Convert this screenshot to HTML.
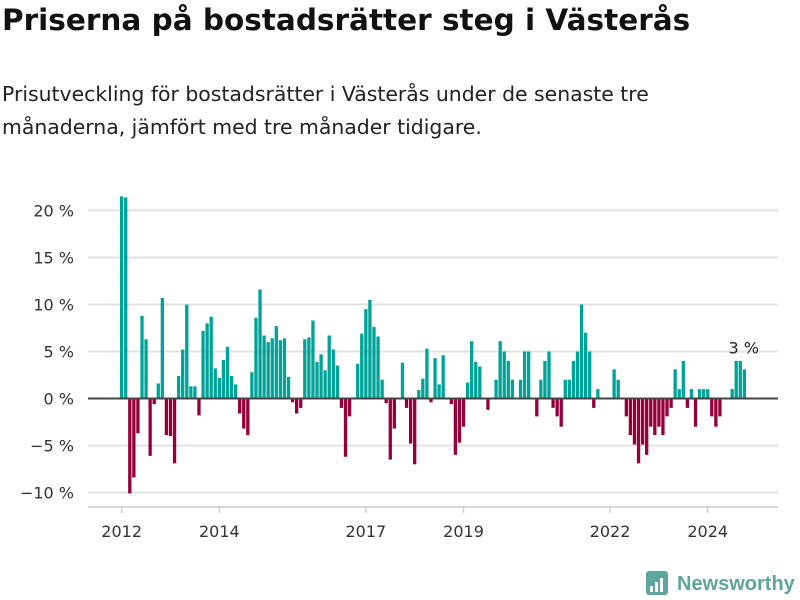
<!DOCTYPE html>
<html><head><meta charset="utf-8"><style>
body{margin:0;background:#fff;font-family:"Liberation Sans","DejaVu Sans",sans-serif;}
#wrap{position:relative;width:800px;height:600px;overflow:hidden}
h1{position:absolute;left:2px;top:3px;margin:0;font-size:29.5px;font-weight:bold;color:#111;font-family:"DejaVu Sans","Liberation Sans",sans-serif;letter-spacing:0px}
p{position:absolute;left:2px;top:78px;margin:0;font-size:20.4px;line-height:33px;color:#222;width:720px;font-family:"DejaVu Sans","Liberation Sans",sans-serif}
svg text{font-family:"DejaVu Sans","Liberation Sans",sans-serif}
</style></head><body>
<div id="wrap">
<h1>Priserna på bostadsrätter steg i Västerås</h1>
<p>Prisutveckling för bostadsrätter i Västerås under de senaste tre<br>månaderna, jämfört med tre månader tidigare.</p>
<svg id="chart" width="800" height="600" style="position:absolute;left:0;top:0"></svg>
</div>
<script>
const startYear = 2012;
const values = [21.5,21.4,-10.1,-8.4,-3.7,8.8,6.3,-6.1,-0.6,1.6,10.7,-3.9,-4.0,-6.9,2.4,5.2,10.0,1.3,1.3,-1.8,7.2,8.0,8.7,3.2,2.2,4.1,5.5,2.4,1.5,-1.6,-3.2,-3.9,2.8,8.6,11.6,6.7,6.0,6.4,7.7,6.2,6.4,2.3,-0.4,-1.6,-1.0,6.3,6.5,8.3,3.9,4.7,3.0,6.7,5.2,3.5,-1.0,-6.2,-1.9,0,3.7,6.9,9.5,10.5,7.6,6.6,2.0,-0.5,-6.5,-3.2,0,3.8,-1.0,-4.8,-7.0,0.9,2.1,5.3,-0.4,4.3,1.5,4.6,0,-0.6,-6.0,-4.7,-3.0,1.7,6.1,3.9,3.4,0,-1.2,0,2.0,6.1,5.0,4.0,2.0,0,2.0,5.0,5.0,0,-1.9,2.0,4.0,5.0,-1.0,-1.9,-3.0,2.0,2.0,4.0,5.0,10.0,7.0,5.0,-1.0,1.0,0,0,0,3.1,2.0,0,-1.9,-3.9,-4.9,-6.9,-4.9,-6.0,-3.0,-3.9,-3.0,-3.9,-1.9,-1.0,3.1,1.0,4.0,-1.0,1.0,-3.0,1.0,1.0,1.0,-1.9,-3.0,-1.9,0,0,1.0,4.0,4.0,3.1];
const yTicks = [-10,-5,0,5,10,15,20];
const xTickYears = [2012,2014,2017,2019,2022,2024];
const annotationText = "3 %";

const svg = document.getElementById('chart');
const NS = 'http://www.w3.org/2000/svg';
const x0 = 120, step = 4.07, barW = 3.3;
const y0 = 398.5, pxPerPct = 9.4;
const xScale = i => x0 + i*step;
const yScale = v => y0 - v*pxPerPct;
function mk(tag, attrs){const e=document.createElementNS(NS,tag);for(const k in attrs)e.setAttribute(k,attrs[k]);svg.appendChild(e);return e;}

yTicks.forEach(t=>{
  if(t!==0){
    const g=mk('line',{x1:88,x2:778,y1:yScale(t),y2:yScale(t),stroke:'#e2e2e2','stroke-width':2});
    
    
  }
  const tx=mk('text',{x:74,y:yScale(t)+6,'text-anchor':'end','font-size':16,fill:'#333'});
  tx.textContent=(t<0?'\u2212'+Math.abs(t):t)+' %';
  
  
});
const ax=mk('line',{x1:88,x2:778,y1:507,y2:507,stroke:'#ccc','stroke-width':1.5});


xTickYears.forEach(yr=>{
  const i=(yr-startYear)*12;
  const cx=xScale(i)+barW/2;
  const tk=mk('line',{x1:cx,x2:cx,y1:507,y2:513,stroke:'#ccc','stroke-width':1.5});
  
  
  const tx=mk('text',{x:cx,y:537,'text-anchor':'middle','font-size':16,fill:'#333'});
  tx.textContent=yr;
  
  
});
values.forEach((v,i)=>{
  if(v===0)return;
  const y=Math.min(yScale(v),y0), h=Math.abs(yScale(v)-y0);
  const r=mk('rect',{x:xScale(i),y:y,width:barW,height:h,fill:v>0?'#00a398':'#95003a'});
  
  
});
const zl=mk('line',{x1:88,x2:778,y1:y0,y2:y0,stroke:'#444','stroke-width':2});


const last=values.length-1;
const an=mk('text',{x:xScale(last)+1,y:yScale(values[last])-16,'text-anchor':'middle','font-size':16,fill:'#222'});
an.textContent=annotationText;


// logo
const lg=mk('rect',{x:646,y:571,width:22,height:24,rx:3,fill:'#5fa59b'});


[[650,586,3,6],[655,582,3,10],[660,578,3,14]].forEach(b=>{const r=mk('rect',{x:b[0],y:b[1],width:b[2],height:b[3],fill:'#fff'});});
const lt=mk('text',{x:677,y:590,'font-size':20,'font-weight':'bold',fill:'#5fa59b',style:'font-family:"Liberation Sans",sans-serif'});
lt.textContent='Newsworthy';


</script>
</body></html>
